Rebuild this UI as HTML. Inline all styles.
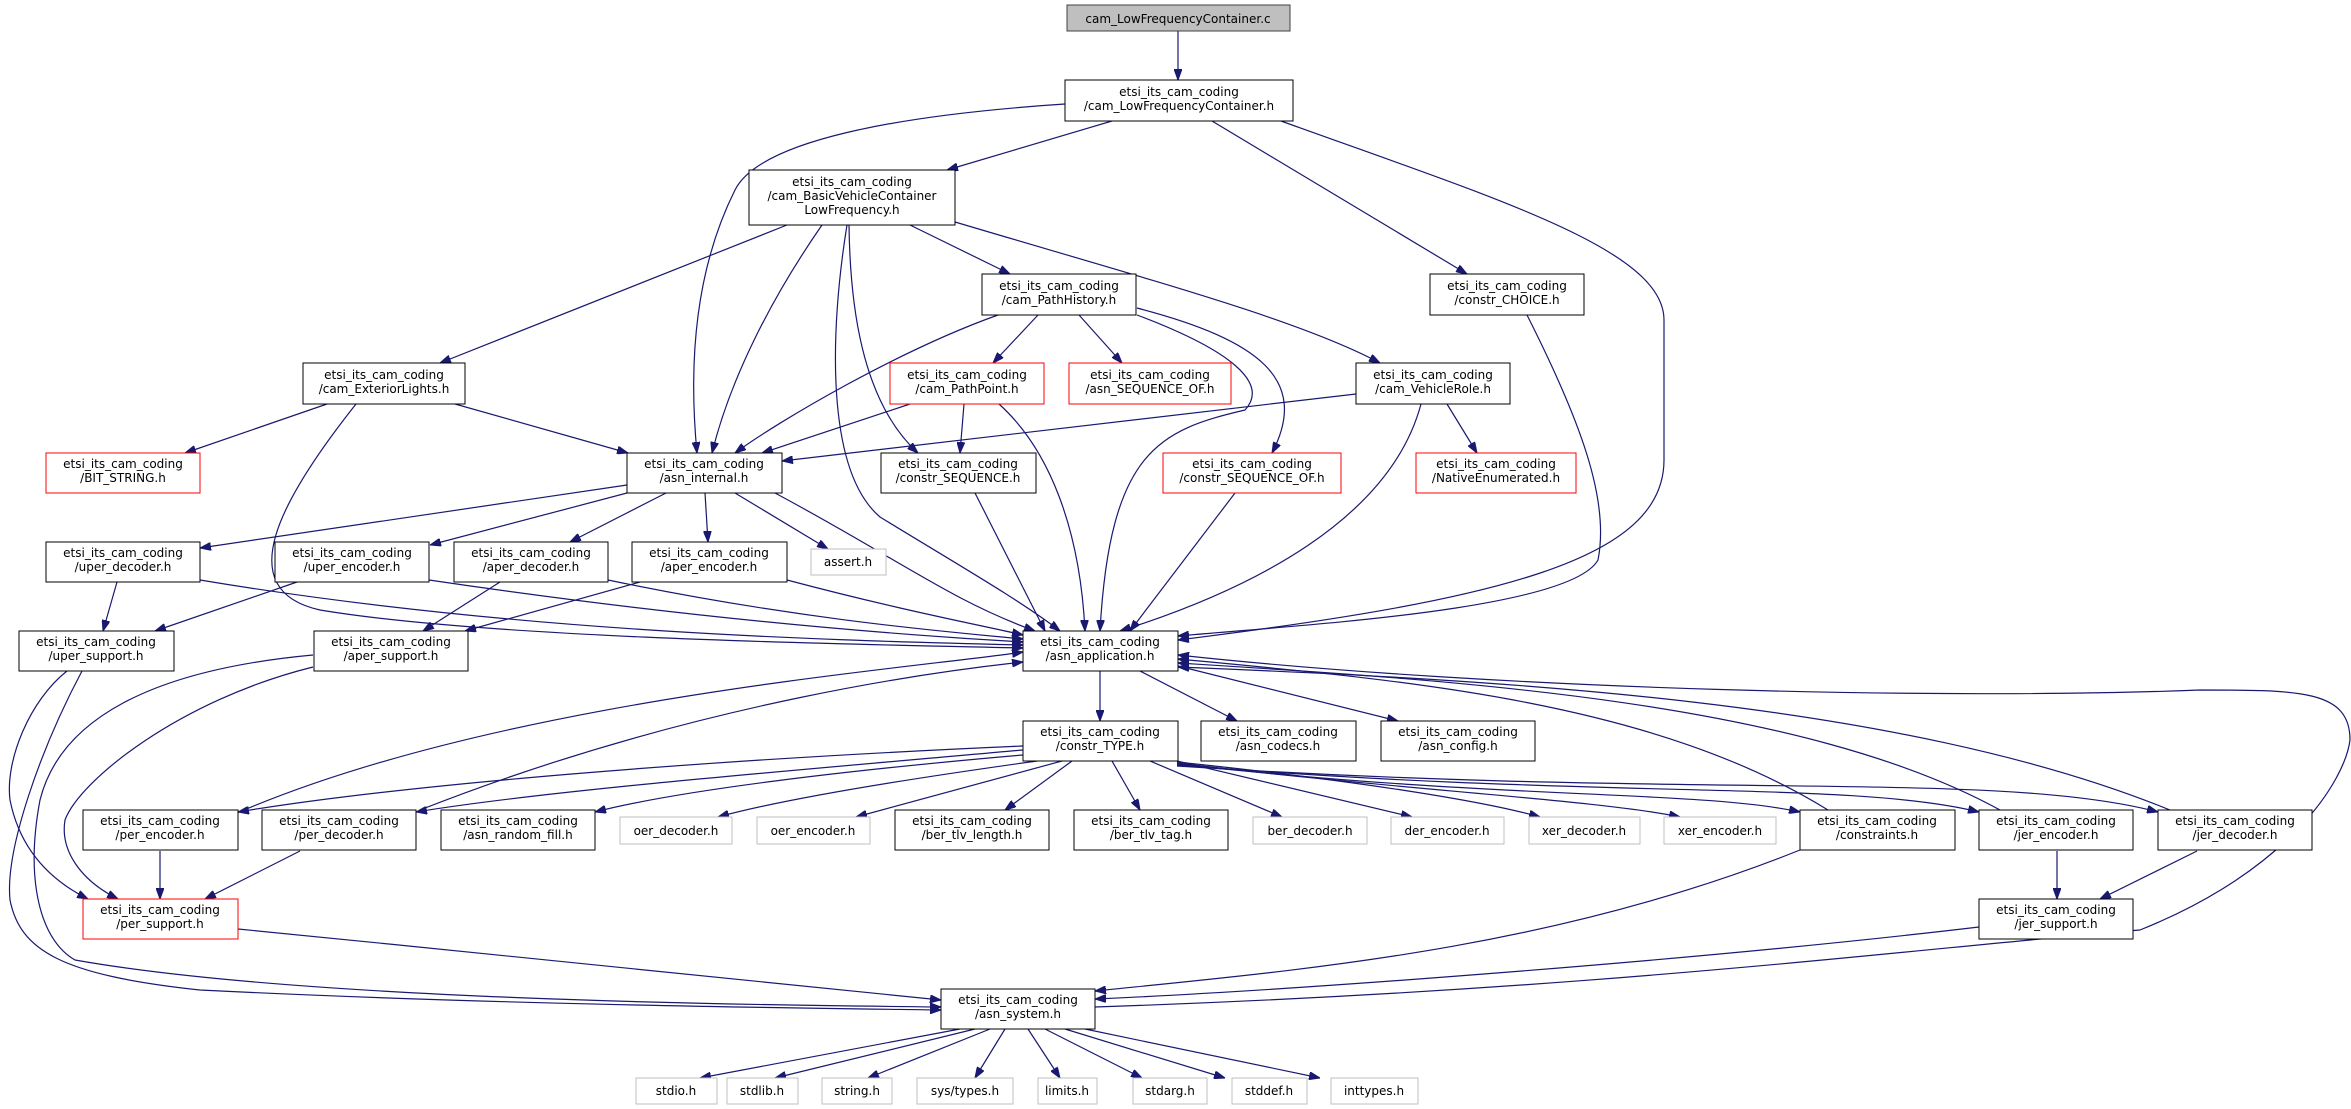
<!DOCTYPE html>
<html><head><meta charset="utf-8"><style>
html,body{margin:0;padding:0;background:#fff;}
svg{display:block}
text{font-family:"DejaVu Sans","Liberation Sans",sans-serif;font-size:12px;fill:#000;text-anchor:middle}
.e{fill:none;stroke:#191970;stroke-width:1.2}
</style></head><body>
<svg width="2351" height="1109" viewBox="0 0 2351 1109" xmlns="http://www.w3.org/2000/svg">
<defs><marker id="a" markerWidth="11" markerHeight="8" refX="11" refY="4" orient="auto" markerUnits="userSpaceOnUse"><path d="M0,0 L11,4 L0,8 z" fill="#191970" stroke="#191970"/></marker></defs>
<g marker-end="url(#a)">
<path class="e" d="M1178,31 L1178,80"/>
<path class="e" d="M1065,104 C900,115 760,140 735,190 C690,280 690,380 697,453"/>
<path class="e" d="M1112,121 L947,170"/>
<path class="e" d="M1212,121 L1467,274"/>
<path class="e" d="M1281,121 C1500,200 1664,250 1664,320 L1664,460 C1664,560 1500,600 1178,640"/>
<path class="e" d="M787,225 L440,363"/>
<path class="e" d="M822,225 C770,300 730,380 712,453"/>
<path class="e" d="M847,225 C830,330 825,470 880,517 C950,560 1020,600 1060,631"/>
<path class="e" d="M849,225 C850,300 860,400 918,453"/>
<path class="e" d="M910,225 L1010,274"/>
<path class="e" d="M955,222 C1150,280 1300,320 1380,363"/>
<path class="e" d="M998,315 C900,350 780,420 735,453"/>
<path class="e" d="M1038,315 L993,363"/>
<path class="e" d="M1079,315 L1122,363"/>
<path class="e" d="M1137,315 C1230,350 1270,383 1245,410 C1160,430 1110,450 1100,631"/>
<path class="e" d="M1137,308 C1260,340 1310,380 1272,453"/>
<path class="e" d="M327,404 L185,453"/>
<path class="e" d="M455,404 L628,453"/>
<path class="e" d="M356,404 C280,500 230,590 320,610 C500,640 900,645 1023,648"/>
<path class="e" d="M910,404 L762,453"/>
<path class="e" d="M964,404 L960,453"/>
<path class="e" d="M999,404 C1050,450 1080,530 1085,631"/>
<path class="e" d="M1356,394 L782,461"/>
<path class="e" d="M1447,404 L1477,453"/>
<path class="e" d="M1421,404 C1390,520 1250,590 1120,631"/>
<path class="e" d="M1527,315 C1580,420 1610,500 1598,560 C1570,610 1300,625 1178,636"/>
<path class="e" d="M975,493 L1045,631"/>
<path class="e" d="M1235,493 L1130,631"/>
<path class="e" d="M627,485 L200,548"/>
<path class="e" d="M627,493 L430,545"/>
<path class="e" d="M666,493 L570,542"/>
<path class="e" d="M705,493 L708,542"/>
<path class="e" d="M735,493 L828,549"/>
<path class="e" d="M775,493 C900,560 950,600 1035,631"/>
<path class="e" d="M117,582 L103,631"/>
<path class="e" d="M200,580 C500,630 800,640 1023,645"/>
<path class="e" d="M297,582 L155,631"/>
<path class="e" d="M429,580 C700,620 900,635 1023,642"/>
<path class="e" d="M500,582 L423,631"/>
<path class="e" d="M608,580 C800,620 950,632 1023,639"/>
<path class="e" d="M640,582 L465,631"/>
<path class="e" d="M787,580 C900,610 980,625 1023,635"/>
<path class="e" d="M67,671 C30,700 5,760 10,800 C20,850 50,880 88,899"/>
<path class="e" d="M82,671 C40,750 5,850 10,900 C20,950 60,975 200,990 C500,1005 800,1008 941,1010"/>
<path class="e" d="M313,655 C150,670 60,720 40,800 C25,880 40,940 75,960 C300,1000 750,1005 941,1007"/>
<path class="e" d="M313,667 C180,700 80,780 65,820 C60,850 80,880 118,899"/>
<path class="e" d="M1100,671 L1100,721"/>
<path class="e" d="M1140,671 L1237,721"/>
<path class="e" d="M1178,666 L1398,721"/>
<path class="e" d="M237,813 C500,700 900,670 1023,652"/>
<path class="e" d="M420,810 C700,700 950,670 1023,662"/>
<path class="e" d="M1023,746 C700,760 400,785 238,812"/>
<path class="e" d="M1023,750 C800,770 550,790 416,812"/>
<path class="e" d="M1023,755 C850,770 680,790 595,812"/>
<path class="e" d="M1037,761 C900,780 780,800 718,817"/>
<path class="e" d="M1062,761 L856,817"/>
<path class="e" d="M1072,761 L1005,810"/>
<path class="e" d="M1112,761 L1140,810"/>
<path class="e" d="M1150,761 L1282,817"/>
<path class="e" d="M1177,761 L1412,817"/>
<path class="e" d="M1177,762 C1350,780 1480,800 1540,817"/>
<path class="e" d="M1177,763 C1400,790 1600,800 1680,817"/>
<path class="e" d="M1177,764 C1500,800 1700,790 1800,812"/>
<path class="e" d="M1177,765 C1600,800 1850,780 1979,812"/>
<path class="e" d="M1177,766 C1700,800 2000,770 2158,812"/>
<path class="e" d="M1828,810 C1650,700 1400,680 1178,659"/>
<path class="e" d="M2000,810 C1800,700 1450,680 1178,663"/>
<path class="e" d="M2170,810 C1900,700 1500,680 1178,667"/>
<path class="e" d="M1095,1007 C1600,990 1900,950 2140,930 C2290,870 2345,780 2350,740 C2350,690 2300,690 2200,690 C1950,700 1500,690 1178,655"/>
<path class="e" d="M160,851 L160,899"/>
<path class="e" d="M300,851 L205,899"/>
<path class="e" d="M2057,851 L2057,899"/>
<path class="e" d="M2197,851 L2100,899"/>
<path class="e" d="M238,929 C500,955 800,985 941,1000"/>
<path class="e" d="M1800,850 C1550,950 1300,970 1095,991"/>
<path class="e" d="M1979,927 C1700,960 1300,990 1095,999"/>
<path class="e" d="M960,1029 L700,1078"/>
<path class="e" d="M975,1029 L775,1078"/>
<path class="e" d="M990,1029 L868,1078"/>
<path class="e" d="M1005,1029 L975,1078"/>
<path class="e" d="M1028,1029 L1060,1078"/>
<path class="e" d="M1045,1029 L1142,1078"/>
<path class="e" d="M1065,1029 L1225,1078"/>
<path class="e" d="M1085,1029 L1320,1078"/>
</g>
<g>
<rect x="1067" y="5" width="223" height="26" fill="#bfbfbf" stroke="#404040"/><text x="1178" y="23">cam_LowFrequencyContainer.c</text>
</g>
<g fill="#fff" stroke="#000">
<rect x="1065" y="80" width="228" height="41"/>
<rect x="749" y="170" width="206" height="55"/>
<rect x="982" y="274" width="154" height="41"/>
<rect x="1430" y="274" width="154" height="41"/>
<rect x="303" y="363" width="162" height="41"/>
<rect x="1356" y="363" width="154" height="41"/>
<rect x="627" y="453" width="155" height="40"/>
<rect x="881" y="453" width="155" height="40"/>
<rect x="46" y="542" width="154" height="40"/>
<rect x="275" y="542" width="154" height="40"/>
<rect x="454" y="542" width="154" height="40"/>
<rect x="632" y="542" width="155" height="40"/>
<rect x="19" y="631" width="155" height="40"/>
<rect x="314" y="631" width="154" height="40"/>
<rect x="1023" y="631" width="155" height="40"/>
<rect x="1023" y="721" width="155" height="40"/>
<rect x="1201" y="721" width="155" height="40"/>
<rect x="1381" y="721" width="154" height="40"/>
<rect x="83" y="810" width="155" height="40"/>
<rect x="262" y="810" width="154" height="40"/>
<rect x="441" y="810" width="154" height="40"/>
<rect x="895" y="810" width="154" height="40"/>
<rect x="1074" y="810" width="154" height="40"/>
<rect x="1800" y="810" width="155" height="40"/>
<rect x="1979" y="810" width="154" height="40"/>
<rect x="2158" y="810" width="154" height="40"/>
<rect x="1979" y="899" width="154" height="40"/>
<rect x="941" y="989" width="154" height="40"/>
</g>
<g fill="#fff" stroke="#ff0000">
<rect x="890" y="363" width="154" height="41"/>
<rect x="1069" y="363" width="162" height="41"/>
<rect x="46" y="453" width="154" height="40"/>
<rect x="1163" y="453" width="178" height="40"/>
<rect x="1416" y="453" width="160" height="40"/>
<rect x="83" y="899" width="155" height="40"/>
</g>
<g fill="#fff" stroke="#bfbfbf">
<rect x="811" y="549" width="75" height="26"/>
<rect x="620" y="817" width="112" height="27"/>
<rect x="757" y="817" width="113" height="27"/>
<rect x="1253" y="817" width="114" height="27"/>
<rect x="1391" y="817" width="113" height="27"/>
<rect x="1529" y="817" width="111" height="27"/>
<rect x="1664" y="817" width="112" height="27"/>
<rect x="636" y="1078" width="81" height="26"/>
<rect x="727" y="1078" width="71" height="26"/>
<rect x="822" y="1078" width="70" height="26"/>
<rect x="917" y="1078" width="96" height="26"/>
<rect x="1038" y="1078" width="59" height="26"/>
<rect x="1133" y="1078" width="74" height="26"/>
<rect x="1232" y="1078" width="75" height="26"/>
<rect x="1331" y="1078" width="87" height="26"/>
</g>
<g>
<text x="1179" y="96">etsi_its_cam_coding</text><text x="1179" y="110">/cam_LowFrequencyContainer.h</text>
<text x="852" y="186">etsi_its_cam_coding</text><text x="852" y="200">/cam_BasicVehicleContainer</text><text x="852" y="214">LowFrequency.h</text>
<text x="1059" y="290">etsi_its_cam_coding</text><text x="1059" y="304">/cam_PathHistory.h</text>
<text x="1507" y="290">etsi_its_cam_coding</text><text x="1507" y="304">/constr_CHOICE.h</text>
<text x="384" y="379">etsi_its_cam_coding</text><text x="384" y="393">/cam_ExteriorLights.h</text>
<text x="967" y="379">etsi_its_cam_coding</text><text x="967" y="393">/cam_PathPoint.h</text>
<text x="1150" y="379">etsi_its_cam_coding</text><text x="1150" y="393">/asn_SEQUENCE_OF.h</text>
<text x="1433" y="379">etsi_its_cam_coding</text><text x="1433" y="393">/cam_VehicleRole.h</text>
<text x="123" y="468">etsi_its_cam_coding</text><text x="123" y="482">/BIT_STRING.h</text>
<text x="704" y="468">etsi_its_cam_coding</text><text x="704" y="482">/asn_internal.h</text>
<text x="958" y="468">etsi_its_cam_coding</text><text x="958" y="482">/constr_SEQUENCE.h</text>
<text x="1252" y="468">etsi_its_cam_coding</text><text x="1252" y="482">/constr_SEQUENCE_OF.h</text>
<text x="1496" y="468">etsi_its_cam_coding</text><text x="1496" y="482">/NativeEnumerated.h</text>
<text x="123" y="557">etsi_its_cam_coding</text><text x="123" y="571">/uper_decoder.h</text>
<text x="352" y="557">etsi_its_cam_coding</text><text x="352" y="571">/uper_encoder.h</text>
<text x="531" y="557">etsi_its_cam_coding</text><text x="531" y="571">/aper_decoder.h</text>
<text x="709" y="557">etsi_its_cam_coding</text><text x="709" y="571">/aper_encoder.h</text>
<text x="848" y="566">assert.h</text>
<text x="96" y="646">etsi_its_cam_coding</text><text x="96" y="660">/uper_support.h</text>
<text x="391" y="646">etsi_its_cam_coding</text><text x="391" y="660">/aper_support.h</text>
<text x="1100" y="646">etsi_its_cam_coding</text><text x="1100" y="660">/asn_application.h</text>
<text x="1100" y="736">etsi_its_cam_coding</text><text x="1100" y="750">/constr_TYPE.h</text>
<text x="1278" y="736">etsi_its_cam_coding</text><text x="1278" y="750">/asn_codecs.h</text>
<text x="1458" y="736">etsi_its_cam_coding</text><text x="1458" y="750">/asn_config.h</text>
<text x="160" y="825">etsi_its_cam_coding</text><text x="160" y="839">/per_encoder.h</text>
<text x="339" y="825">etsi_its_cam_coding</text><text x="339" y="839">/per_decoder.h</text>
<text x="518" y="825">etsi_its_cam_coding</text><text x="518" y="839">/asn_random_fill.h</text>
<text x="676" y="835">oer_decoder.h</text>
<text x="813" y="835">oer_encoder.h</text>
<text x="972" y="825">etsi_its_cam_coding</text><text x="972" y="839">/ber_tlv_length.h</text>
<text x="1151" y="825">etsi_its_cam_coding</text><text x="1151" y="839">/ber_tlv_tag.h</text>
<text x="1310" y="835">ber_decoder.h</text>
<text x="1447" y="835">der_encoder.h</text>
<text x="1584" y="835">xer_decoder.h</text>
<text x="1720" y="835">xer_encoder.h</text>
<text x="1877" y="825">etsi_its_cam_coding</text><text x="1877" y="839">/constraints.h</text>
<text x="2056" y="825">etsi_its_cam_coding</text><text x="2056" y="839">/jer_encoder.h</text>
<text x="2235" y="825">etsi_its_cam_coding</text><text x="2235" y="839">/jer_decoder.h</text>
<text x="160" y="914">etsi_its_cam_coding</text><text x="160" y="928">/per_support.h</text>
<text x="2056" y="914">etsi_its_cam_coding</text><text x="2056" y="928">/jer_support.h</text>
<text x="1018" y="1004">etsi_its_cam_coding</text><text x="1018" y="1018">/asn_system.h</text>
<text x="676" y="1095">stdio.h</text>
<text x="762" y="1095">stdlib.h</text>
<text x="857" y="1095">string.h</text>
<text x="965" y="1095">sys/types.h</text>
<text x="1067" y="1095">limits.h</text>
<text x="1170" y="1095">stdarg.h</text>
<text x="1269" y="1095">stddef.h</text>
<text x="1374" y="1095">inttypes.h</text>
</g>
</svg>
</body></html>
